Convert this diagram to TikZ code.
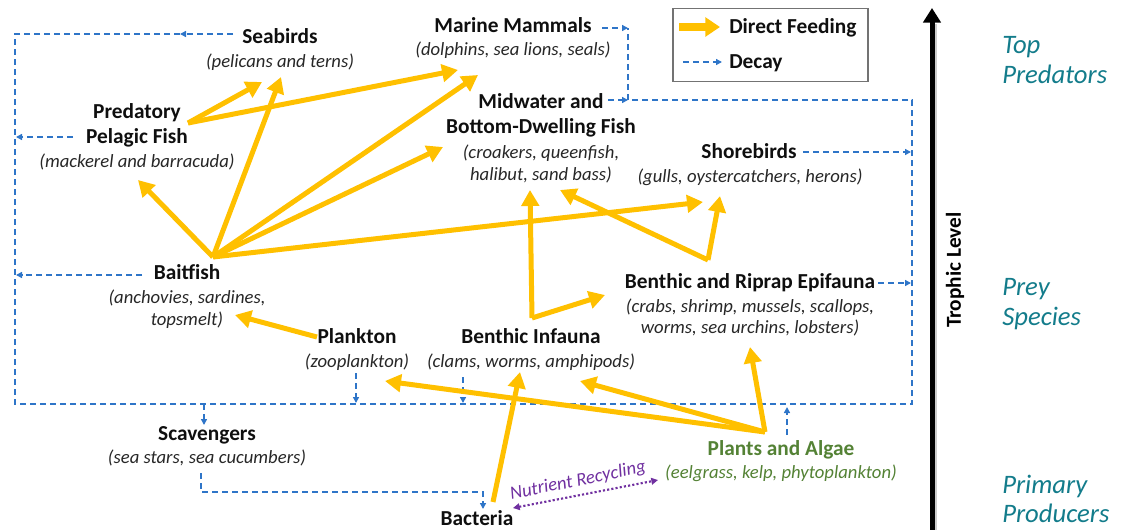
\documentclass[tikz,border=0pt]{standalone}
\usepackage{fontspec}
\setmainfont{Carlito}
\usetikzlibrary{arrows.meta}
\definecolor{gold}{RGB}{255,192,0}
\definecolor{decayblue}{RGB}{46,117,200}
\definecolor{plantgreen}{RGB}{84,130,53}
\definecolor{tealtxt}{RGB}{19,124,139}
\definecolor{purp}{RGB}{112,48,160}
\definecolor{txt}{RGB}{15,15,15}
\begin{document}
\begin{tikzpicture}[x=0.75pt,y=-0.75pt,
  ttl/.style={font=\fontsize{16}{19}\selectfont\bfseries, text=txt, anchor=base, inner sep=0pt},
  sub/.style={font=\fontsize{14}{17}\selectfont\itshape, text=txt!90, anchor=base, inner sep=0pt},
  feed/.style={draw=gold, line width=3.75pt, -{Triangle[length=12pt,width=13pt]}},
  decay/.style={draw=decayblue, line width=1.1pt, dash pattern=on 4.5pt off 3pt},
  decayarr/.style={decay, -{Triangle[length=4.5pt,width=4.5pt]}},
  level/.style={font=\fontsize{20}{24}\selectfont\itshape, text=tealtxt, anchor=base west, inner sep=0pt},
]
\useasboundingbox (0,0) rectangle (1139,529);

% ---------- nodes ----------
\node[ttl] (seab) at (280,43) {Seabirds};
\node[sub] (seabs) at (280,67) {(pelicans and terns)};

\node[ttl] (mm) at (513,32) {Marine Mammals};
\node[sub] (mms) at (513,55) {(dolphins, sea lions, seals)};

\node[ttl] (ppf1) at (137,118) {Predatory};
\node[ttl] (ppf2) at (137,143) {Pelagic Fish};
\node[sub] (ppfs) at (137,167) {(mackerel and barracuda)};

\node[ttl] (mw1) at (541,108) {Midwater and};
\node[ttl] (mw2) at (541,133) {Bottom-Dwelling Fish};
\node[sub] (mws1) at (541,158) {(croakers, queenfish,};
\node[sub] (mws2) at (541,180) {halibut, sand bass)};

\node[ttl] (sb) at (749,158) {Shorebirds};
\node[sub] (sbs) at (750,182) {(gulls, oystercatchers, herons)};

\node[ttl] (bait) at (187,279) {Baitfish};
\node[sub] (baits1) at (187,303) {(anchovies, sardines,};
\node[sub] (baits2) at (187,325) {topsmelt)};

\node[ttl] (plk) at (357,343) {Plankton};
\node[sub] (plks) at (357,367) {(zooplankton)};

\node[ttl] (inf) at (531,343) {Benthic Infauna};
\node[sub] (infs) at (531,367) {(clams, worms, amphipods)};

\node[ttl] (epi) at (750,288) {Benthic and Riprap Epifauna};
\node[sub] (epis1) at (750,312) {(crabs, shrimp, mussels, scallops,};
\node[sub] (epis2) at (750,333) {worms, sea urchins, lobsters)};

\node[ttl] (scav) at (207,440) {Scavengers};
\node[sub] (scavs) at (207,463) {(sea stars, sea cucumbers)};

\node[ttl, text=plantgreen] (pa) at (781,455) {Plants and Algae};
\node[sub, text=plantgreen] (pas) at (781,478) {(eelgrass, kelp, phytoplankton)};

\node[ttl] (bac) at (477,525) {Bacteria};

\node[font=\fontsize{14}{17}\selectfont\itshape, text=purp, rotate=11.5, inner sep=0pt] (nrl) at (578,481) {Nutrient Recycling};

% ---------- legend ----------
\node[draw=black!55, line width=0.8pt, minimum width=195*0.75pt, minimum height=73*0.75pt, inner sep=0pt] (leg) at (770.5,45) {};
\node[ttl, anchor=base west] (legf) at (729,33) {Direct Feeding};
\node[ttl, anchor=base west] (legd) at (729,68) {Decay};
\coordinate (lf1) at (679,27);
\coordinate (lf2) at (720,27);
\coordinate (ld1) at (683,62);
\coordinate (ld2) at (722,62);
\draw[feed, line width=5.5pt, -{Triangle[length=11pt,width=14pt]}] (lf1) -- (lf2);
\draw[decayarr] (ld1) -- (ld2);

% ---------- trophic axis ----------
\coordinate (tbot) at (932,535);
\coordinate (ttop) at (932,8);
\coordinate (gbot) at (935.5,535);
\coordinate (gtop) at (935.5,24);
\draw[black!20, line width=1.5pt] (gbot) -- (gtop);
\draw[line width=3.75pt, -{Triangle[length=11pt,width=13pt]}] (tbot) -- (ttop);
\node[font=\fontsize{16}{19}\selectfont\bfseries, rotate=90, inner sep=0pt] (tlev) at (955,270) {Trophic Level};

\node[level] (lv1a) at (1002,53) {Top};
\node[level] (lv1b) at (1002,83) {Predators};
\node[level] (lv2a) at (1002,295) {Prey};
\node[level] (lv2b) at (1002,325) {Species};
\node[level] (lv3a) at (1002,493) {Primary};
\node[level] (lv3b) at (1002,522) {Producers};

% ---------- decay frame ----------
\coordinate (fTL) at (15,34);
\coordinate (fBL) at (15,404);
\coordinate (fBR) at (912,404);
\coordinate (fTR) at (912,100);
\coordinate (mmC) at (628,100);
\coordinate (mmT) at (628,28);

\coordinate (seabD) at (233,34);
\coordinate (seabM) at (180,34);
\draw[decayarr] (seabD) -- (seabM);
\draw[decay] (seabM) -- (fTL) -- (fBL) -- (fBR) -- (fTR) -- (mmC) -- (mmT);

\coordinate (ppfD) at (73,137);
\coordinate (ppfE) at (16,137);
\draw[decayarr] (ppfD) -- (ppfE);
\coordinate (baitD) at (142,275);
\coordinate (baitE) at (16,275);
\draw[decayarr] (baitD) -- (baitE);

\coordinate (mmD) at (602,28);
\draw[decayarr] (mmD) -- (mmT);
\coordinate (mwD) at (608,100);
\draw[decayarr] (mwD) -- (mmC);

\coordinate (sbD) at (803,152);
\coordinate (sbE) at (911,152);
\draw[decayarr] (sbD) -- (sbE);
\coordinate (epiD) at (878,283);
\coordinate (epiE) at (911,283);
\draw[decayarr] (epiD) -- (epiE);

\coordinate (plkD) at (356,373);
\coordinate (plkE) at (356,403);
\draw[decayarr] (plkD) -- (plkE);
\coordinate (infD) at (463,377);
\coordinate (infE) at (463,403);
\draw[decayarr] (infD) -- (infE);

\coordinate (scavS) at (204,404);
\coordinate (scavE) at (204,425);
\draw[decayarr] (scavS) -- (scavE);

\coordinate (scavD) at (201,473);
\coordinate (scavC1) at (201,492);
\coordinate (scavC2) at (483,492);
\coordinate (bacE) at (483,509);
\draw[decayarr] (scavD) -- (scavC1) -- (scavC2) -- (bacE);

\coordinate (paD) at (787,435);
\coordinate (paE) at (787,407);
\draw[decayarr] (paD) -- (paE);

% ---------- nutrient recycling ----------
\coordinate (nrA) at (513,508);
\coordinate (nrB) at (658,480);
\draw[purp, line width=1.6pt, dash pattern=on 1.6pt off 1.6pt,
  {Triangle[length=5pt,width=5pt]}-{Triangle[length=5pt,width=5pt]}] (nrA) -- (nrB);

% ---------- direct feeding ----------
\coordinate (ppfO) at (188,123);
\coordinate (seabA) at (262,82);
\coordinate (mmA) at (458,70);
\coordinate (baitO) at (213,257);
\coordinate (seabB) at (281,77);
\coordinate (ppfA) at (138,180);
\coordinate (mmB) at (478,75);
\coordinate (mwA) at (443,147);
\coordinate (sbA) at (703,202);
\coordinate (epiO) at (708,260);
\coordinate (sbB) at (720,196);
\coordinate (mwB) at (560,190);
\coordinate (infO) at (532,318);
\coordinate (mwC) at (530,190);
\coordinate (epiA) at (605,295);
\coordinate (plkO) at (317,337);
\coordinate (baitA) at (235,315);
\coordinate (paO) at (765,432);
\coordinate (plkA) at (385,381);
\coordinate (infA) at (580,381);
\coordinate (epiB) at (750,347);
\coordinate (bacO) at (493,502);
\coordinate (infB) at (520,372);

\draw[feed] (ppfO) -- (seabA);
\draw[feed] (ppfO) -- (mmA);
\draw[feed] (baitO) -- (seabB);
\draw[feed] (baitO) -- (ppfA);
\draw[feed] (baitO) -- (mmB);
\draw[feed] (baitO) -- (mwA);
\draw[feed] (baitO) -- (sbA);
\draw[feed] (epiO) -- (sbB);
\draw[feed] (epiO) -- (mwB);
\draw[feed] (infO) -- (mwC);
\draw[feed] (infO) -- (epiA);
\draw[feed] (plkO) -- (baitA);
\draw[feed] (paO) -- (plkA);
\draw[feed] (paO) -- (infA);
\draw[feed] (paO) -- (epiB);
\draw[feed] (bacO) -- (infB);
\end{tikzpicture}
\end{document}
